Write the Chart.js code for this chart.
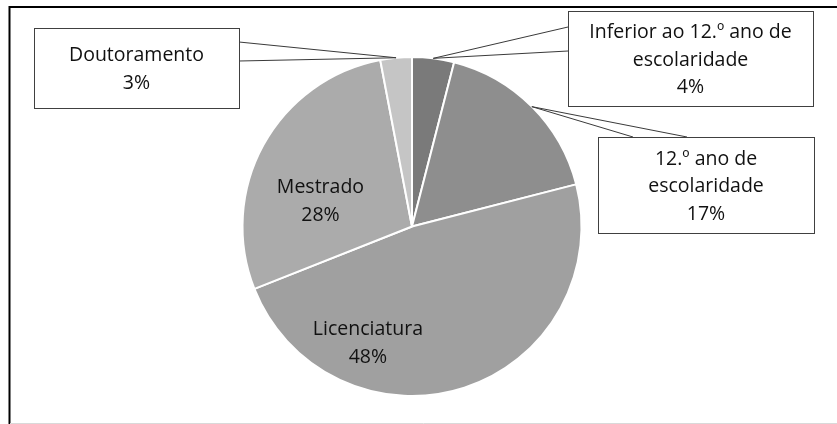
<!DOCTYPE html>
<html>
<head>
<meta charset="utf-8">
<script src="https://cdn.jsdelivr.net/npm/chart.js@4.4.1/dist/chart.umd.min.js"></script>
<style>
  html, body { margin: 0; padding: 0; background: #fff; }
  #wrap { width: 837px; height: 424px; position: relative; }
</style>
</head>
<body>
<div id="wrap"><canvas id="c"></canvas></div>
<script>
// ---- data ----
const categories = ['Inferior ao 12.º ano de escolaridade', '12.º ano de escolaridade', 'Licenciatura', 'Mestrado', 'Doutoramento'];
const labelLines = [['Inferior ao 12.º ano de', 'escolaridade'], ['12.º ano de', 'escolaridade'], ['Licenciatura'], ['Mestrado'], ['Doutoramento']];
const values = [4, 17, 48, 28, 3];
const sliceColors = ['#7a7a7a', '#8e8e8e', '#a0a0a0', '#ababab', '#c5c5c5'];

// ---- label layout (callout boxes / inside labels) ----
const labelLayout = [
  { type: 'box', x: 568, y: 11, w: 245, h: 95, base: [[568, 27], [568, 51]] },
  { type: 'box', x: 598, y: 137, w: 216, h: 96, base: [[633, 137], [687, 137]] },
  { type: 'inside', dx: -0.26, dy: 0.69 },
  { type: 'inside', dx: -0.54, dy: -0.147 },
  { type: 'box', x: 34, y: 28, w: 205, h: 80, base: [[239, 42], [239, 61]] }
];

const FONT = '19.5px "Open Sans"';
const LINE_H = 27.5;
const TEXT_COLOR = '#111111';

const framePlugin = {
  id: 'frame',
  beforeDraw(chart) {
    const ctx = chart.ctx;
    ctx.save();
    ctx.fillStyle = '#fff';
    ctx.fillRect(0, 0, chart.width, chart.height);
    ctx.strokeStyle = '#000';
    ctx.lineWidth = 2;
    ctx.beginPath();
    ctx.moveTo(9.5, chart.height);
    ctx.lineTo(9.5, 7);
    ctx.lineTo(chart.width, 7);
    ctx.stroke();
    ctx.strokeStyle = '#d9d9d9';
    ctx.lineWidth = 1;
    ctx.beginPath();
    ctx.moveTo(10, chart.height - 0.5);
    ctx.lineTo(chart.width, chart.height - 0.5);
    ctx.stroke();
    ctx.restore();
  }
};

const labelPlugin = {
  id: 'pieLabels',
  afterDatasetsDraw(chart) {
    const ctx = chart.ctx;
    const meta = chart.getDatasetMeta(0);
    const total = values.reduce((a, b) => a + b, 0);
    ctx.save();
    ctx.font = FONT;
    ctx.textAlign = 'center';
    ctx.textBaseline = 'middle';
    meta.data.forEach((arc, i) => {
      const lay = labelLayout[i];
      const lines = labelLines[i].concat([Math.round(values[i] / total * 100) + '%']);
      const { x: cx, y: cy, outerRadius, startAngle, endAngle } = arc.getProps(['x', 'y', 'outerRadius', 'startAngle', 'endAngle'], true);
      let tx, ty;
      if (lay.type === 'box') {
        const mid = (startAngle + endAngle) / 2;
        const px = cx + Math.cos(mid) * outerRadius;
        const py = cy + Math.sin(mid) * outerRadius;
        // wedge leader
        ctx.strokeStyle = '#3a3a3a';
        ctx.lineWidth = 1;
        ctx.beginPath();
        ctx.moveTo(lay.base[0][0], lay.base[0][1]);
        ctx.lineTo(px, py);
        ctx.lineTo(lay.base[1][0], lay.base[1][1]);
        ctx.stroke();
        ctx.fillStyle = '#fff';
        ctx.fillRect(lay.x, lay.y, lay.w, lay.h);
        ctx.strokeStyle = '#404040';
        ctx.strokeRect(lay.x + 0.5, lay.y + 0.5, lay.w, lay.h);
        tx = lay.x + lay.w / 2;
        ty = lay.y + lay.h / 2 + 1.5;
      } else {
        tx = cx + lay.dx * outerRadius;
        ty = cy + lay.dy * outerRadius;
      }
      ctx.fillStyle = TEXT_COLOR;
      const n = lines.length;
      lines.forEach((t, k) => {
        ctx.fillText(t, tx, ty + (k - (n - 1) / 2) * LINE_H);
      });
    });
    ctx.restore();
  }
};

new Chart(document.getElementById('c'), {
  type: 'pie',
  data: {
    labels: categories,
    datasets: [{
      data: values,
      backgroundColor: sliceColors,
      borderColor: '#ffffff',
      borderWidth: 2,
      hoverOffset: 0,
      offset: 0
    }]
  },
  options: {
    responsive: true,
    maintainAspectRatio: false,
    animation: false,
    events: [],
    layout: { padding: { top: 56, bottom: 27, left: 0, right: 13 } },
    plugins: {
      legend: { display: false },
      tooltip: { enabled: false }
    }
  },
  plugins: [framePlugin, labelPlugin]
});
</script>
</body>
</html>
